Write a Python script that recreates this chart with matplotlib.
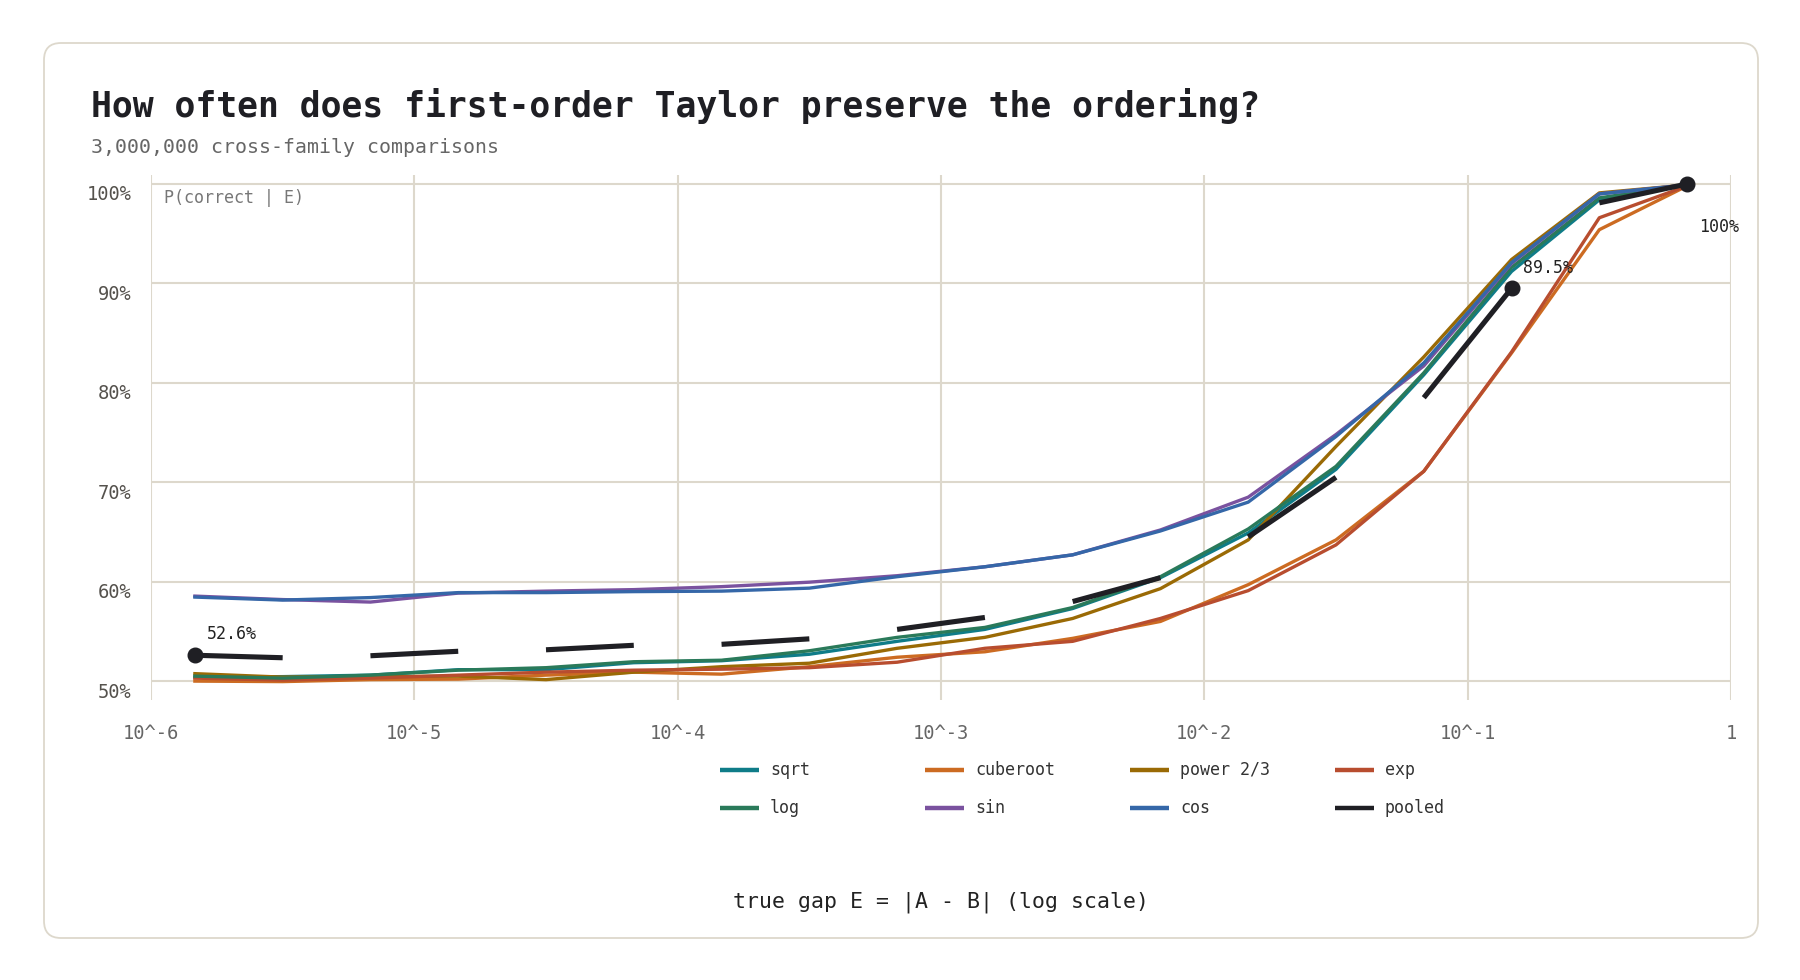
import numpy as np
import matplotlib
matplotlib.use("Agg")
import matplotlib.pyplot as plt
from matplotlib.patches import FancyBboxPatch
from matplotlib.lines import Line2D
from matplotlib.transforms import ScaledTranslation

plt.rcParams['font.family'] = ['DejaVu Sans Mono', 'DejaVu Sans']

# bin centres: three bins per decade from 1e-6 to 1
gap = 10 ** (-6 + (np.arange(18) + 0.5) / 3)

sqrt_p = [50.4, 50.45, 50.6, 51.15, 51.15, 51.85, 52.05, 52.7, 54.0, 55.2,
          57.3, 60.4, 64.9, 71.3, 80.8, 91.2, 98.4, 99.9]
log_p = [50.5, 50.3, 50.6, 51.1, 51.35, 51.95, 52.1, 53.05, 54.4, 55.4,
         57.4, 60.5, 65.3, 71.6, 81.0, 91.6, 98.6, 99.9]
cuberoot_p = [50.0, 49.95, 50.15, 50.2, 50.6, 50.9, 50.7, 51.45, 52.4, 52.95,
              54.3, 56.0, 59.7, 64.2, 71.1, 83.0, 95.4, 99.8]
sin_p = [58.55, 58.2, 57.95, 58.85, 59.05, 59.2, 59.5, 59.95, 60.6, 61.5,
         62.7, 65.2, 68.5, 74.8, 81.7, 92.0, 99.0, 99.9]
power_p = [50.75, 50.4, 50.45, 50.5, 50.15, 50.9, 51.45, 51.8, 53.3, 54.4,
           56.3, 59.3, 64.2, 73.6, 82.6, 92.4, 99.1, 99.9]
cos_p = [58.45, 58.15, 58.4, 58.9, 58.9, 59.0, 59.05, 59.35, 60.5, 61.5,
         62.7, 65.1, 68.0, 74.6, 82.0, 92.1, 99.0, 99.9]
exp_p = [50.3, 50.1, 50.3, 50.6, 50.9, 51.1, 51.2, 51.35, 51.9, 53.3,
         54.0, 56.3, 59.1, 63.7, 71.1, 83.1, 96.6, 99.8]
pooled = [52.6, 52.35, 52.55, 53.0, 53.15, 53.6, 53.7, 54.25, 55.2, 56.4,
          58.0, 60.4, 64.5, 70.5, 78.5, 89.5, 98.1, 100.0]

families = ['sqrt', 'cuberoot', 'power 2/3', 'exp', 'log', 'sin', 'cos']
series = [sqrt_p, cuberoot_p, power_p, exp_p, log_p, sin_p, cos_p]
colors = ['#0f7c88', '#cc6b22', '#9a6a05', '#b84d2f', '#2a7a5a', '#7a529f', '#3567a8']
pooled_color = '#1f1f24'
marked = [0, 15, 17]

xticks = [1e-6, 1e-5, 1e-4, 1e-3, 1e-2, 1e-1, 1]
xticklabels = ['10^-6', '10^-5', '10^-4', '10^-3', '10^-2', '10^-1', '1']
yticks = [50, 60, 70, 80, 90, 100]

W, H = 1800, 980
fig = plt.figure(figsize=(W / 100, H / 100), dpi=100)

card = FancyBboxPatch((0.44, 0.42), 17.14, 8.95,
                      boxstyle="round,pad=0,rounding_size=0.17",
                      transform=fig.dpi_scale_trans, facecolor='white',
                      edgecolor='#ddd8cc', linewidth=1.3, zorder=-5)
fig.add_artist(card)

ax = fig.add_axes([151 / W, 1 - 700 / H, 1580 / W, 525 / H])
ax.set_zorder(2)
ax.set_facecolor('none')
ax.set_xscale('log')
ax.set_xlim(1e-6, 1)
ax.set_ylim(48.1, 100.9)

for s in ax.spines.values():
    s.set_visible(False)
ax.set_xticks(xticks)
ax.set_xticklabels(xticklabels)
ax.xaxis.set_minor_locator(matplotlib.ticker.NullLocator())
ax.set_yticks(yticks)
ax.set_yticklabels([f'{v}%' for v in yticks])
ax.tick_params(axis='x', length=0, pad=17, labelsize=13.5, labelcolor='#666666')
ax.tick_params(axis='y', length=0, pad=14, labelsize=13.5, labelcolor='#55524d')
for lab in ax.get_yticklabels():
    lab.set_transform(lab.get_transform() + ScaledTranslation(0, -0.09, fig.dpi_scale_trans))
ax.grid(True, color='#ddd8cc', linewidth=1.5)
ax.set_axisbelow(True)

for name, vals, c in zip(families, series, colors):
    ax.plot(gap, vals, color=c, linewidth=2.4, zorder=3)

# pooled curve drawn as paired segments
for i in range(0, len(gap), 2):
    ax.plot(gap[i:i + 2], pooled[i:i + 2], color=pooled_color, linewidth=3.7,
            solid_capstyle='butt', zorder=5)

for i in marked:
    ax.plot(gap[i], pooled[i], 'o', color=pooled_color, markersize=10.5, zorder=6)
    txt = f'{pooled[i]:.1f}'.rstrip('0').rstrip('.') + '%'
    dy = -31 if i == len(gap) - 1 else 15
    ax.annotate(txt, (gap[i], pooled[i]), xytext=(8.6, dy), textcoords='offset points',
                ha='left', va='center', fontsize=12, color='#222222', zorder=7)

ax.text(13 / 1580, (700 - 198) / 525, 'P(correct | E)', transform=ax.transAxes,
        ha='left', va='center', fontsize=12, color='#777777')

fig.text(91 / W, 1 - 117 / H, 'How often does first-order Taylor preserve the ordering?',
         ha='left', va='baseline', fontsize=25, fontweight='bold', color='#1f1f24')
fig.text(91 / W, 1 - 153 / H, '3,000,000 cross-family comparisons',
         ha='left', va='baseline', fontsize=14.3, color='#666666')
fig.text(941 / W, 1 - 902 / H, 'true gap E = |A - B| (log scale)',
         ha='center', va='center', fontsize=15.5, color='#222222')

# legend laid out on a fixed grid
leg_names = families + ['pooled']
leg_colors = colors + [pooled_color]
for slot in range(len(leg_names)):
    col, row = slot % 4, slot // 4
    x0 = 720 + 205 * col
    y0 = 770 + 38 * row
    fig.add_artist(Line2D([x0 / W, (x0 + 39) / W], [1 - y0 / H, 1 - y0 / H],
                          transform=fig.transFigure, color=leg_colors[slot],
                          linewidth=3.2, solid_capstyle='butt'))
    fig.text((x0 + 50) / W, 1 - y0 / H, leg_names[slot], ha='left', va='center',
             fontsize=12, color='#333333')

fig.savefig('out.png', dpi=100, facecolor='white')
